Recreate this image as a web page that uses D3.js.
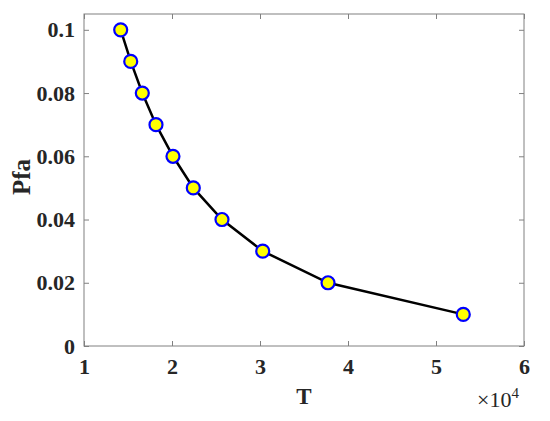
<!DOCTYPE html>
<html><head><meta charset="utf-8">
<script src="https://cdn.jsdelivr.net/npm/d3@7"></script>
<style>body{margin:0;background:#fff}svg{display:block}
svg text{font-family:"Liberation Serif","Times New Roman",serif;fill:#262626}</style>
</head><body>
<svg id="c" width="550" height="421"></svg>
<script>
const tValues = [14170, 15310, 16625, 18180, 20110, 22420, 25680, 30310, 37730, 53100];
const pfaValues = [0.10, 0.09, 0.08, 0.07, 0.06, 0.05, 0.04, 0.03, 0.02, 0.01];
const xTicks = [10000, 20000, 30000, 40000, 50000, 60000];
const xTickLabels = ["1", "2", "3", "4", "5", "6"];
const yTicks = [0, 0.02, 0.04, 0.06, 0.08, 0.1];
const yTickLabels = ["0", "0.02", "0.04", "0.06", "0.08", "0.1"];

const L = 84, R = 524, T = 14, B = 346;
const svg = d3.select("#c");
const x = d3.scaleLinear().domain([10000, 60000]).range([L, R]);
const y = d3.scaleLinear().domain([0, 0.105]).range([B, T]);
const axisCol = "#808080";

function styleAxis(g, hide) {
  g.attr("font-family", null).attr("font-size", null);
  g.select(".domain").remove();
  g.selectAll(".tick line").attr("stroke", axisCol).attr("stroke-width", 1);
  if (hide) g.selectAll(".tick text").remove();
  else g.selectAll(".tick text").attr("fill", null)
      .style("font-weight", "bold").style("font-size", "22px");
}
svg.append("g").attr("transform", `translate(0,${B})`)
  .call(d3.axisBottom(x).tickValues(xTicks).tickSizeInner(-5).tickSizeOuter(0).tickPadding(12)
    .tickFormat((d, i) => xTickLabels[i])).call(g => styleAxis(g, false));
svg.append("g").attr("transform", `translate(0,${T})`)
  .call(d3.axisTop(x).tickValues(xTicks).tickSizeInner(-5).tickSizeOuter(0))
  .call(g => styleAxis(g, true));
svg.append("g").attr("transform", `translate(${L},0)`)
  .call(d3.axisLeft(y).tickValues(yTicks).tickSizeInner(-5).tickSizeOuter(0).tickPadding(9)
    .tickFormat((d, i) => yTickLabels[i])).call(g => styleAxis(g, false));
svg.append("g").attr("transform", `translate(${R},0)`)
  .call(d3.axisRight(y).tickValues(yTicks).tickSizeInner(-5).tickSizeOuter(0))
  .call(g => styleAxis(g, true));

svg.append("rect").attr("x", L).attr("y", T).attr("width", R - L).attr("height", B - T)
  .attr("fill", "none").attr("stroke", axisCol).attr("stroke-width", 1);

const data = tValues.map((t, i) => ({t, p: pfaValues[i]}));
svg.append("path").datum(data)
  .attr("d", d3.line().x(d => x(d.t)).y(d => y(d.p)))
  .attr("fill", "none").attr("stroke", "#000").attr("stroke-width", 2.5);
svg.selectAll("circle.m").data(data).enter().append("circle").attr("class", "m")
  .attr("cx", d => x(d.t)).attr("cy", d => y(d.p)).attr("r", 6.5)
  .attr("fill", "#ffff00").attr("stroke", "#0000ff").attr("stroke-width", 2.2);

svg.append("text").attr("x", 304).attr("y", 404).attr("text-anchor", "middle")
  .style("font-weight", "bold").style("font-size", "23px").text("T");
svg.append("text").attr("transform", "translate(30,177) rotate(-90)").attr("text-anchor", "middle")
  .style("font-weight", "bold").style("font-size", "25px").text("Pfa");
const ex = svg.append("text").attr("x", 477).attr("y", 407).style("font-size", "22px");
ex.append("tspan").text("×10");
ex.append("tspan").attr("dy", -9).style("font-size", "15px").text("4");
</script>
</body></html>
